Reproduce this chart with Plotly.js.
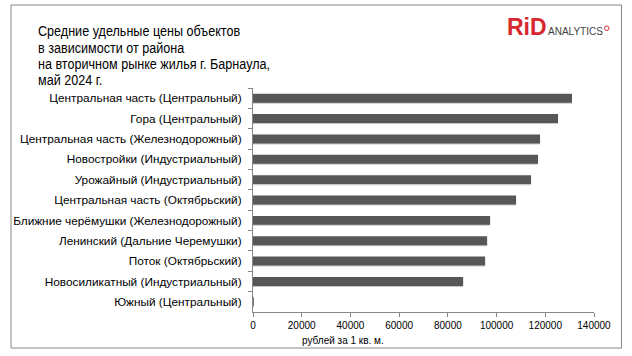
<!DOCTYPE html>
<html><head><meta charset="utf-8">
<script src="https://cdn.plot.ly/plotly-3.0.1.min.js"></script>
<style>
html,body{margin:0;padding:0;background:#fff}
#chart{width:632px;height:356px}
.narrow text.annotation-text{transform-box:fill-box;transform-origin:0 50%;transform:scaleX(0.84)}
</style>
</head><body><div id="chart"></div>
<script>
const categories = [
  "Центральная часть (Центральный)",
  "Гора (Центральный)",
  "Центральная часть (Железнодорожный)",
  "Новостройки (Индустриальный)",
  "Урожайный (Индустриальный)",
  "Центральная часть (Октябрьский)",
  "Ближние черёмушки (Железнодорожный)",
  "Ленинский (Дальние Черемушки)",
  "Поток (Октябрьский)",
  "Новосиликатный (Индустриальный)",
  "Южный (Центральный)"
];
const prices = [130970, 125240, 117850, 117030, 114160, 108010, 97340, 96110, 95290, 86270, 300];
const xTicks = [0, 20000, 40000, 60000, 80000, 100000, 120000, 140000];
const titleLines = ["Средние удельные цены объектов", "в зависимости от района", "на вторичном рынке жилья г. Барнаула,", "май 2024 г."];
const xAxisTitle = "рублей за 1 кв. м.";

const L = 253, R = 594, T = 88, B = 312;
const W = R - L, H = B - T;
const px = x => (x - L) / W;
const py = y => (B - y) / H;

const shadow = {
  type: 'bar', orientation: 'h', y: categories, x: prices,
  width: 0.44, offset: -0.17,
  marker: {color: 'rgba(0,0,0,0.22)', line: {width: 0}}, hoverinfo: 'skip'
};
const trace = {
  type: 'bar', orientation: 'h', y: categories, x: prices,
  width: 0.44, offset: -0.22,
  marker: {color: '#575757', line: {width: 0}}, hoverinfo: 'x+y'
};

const titleFont = {family: 'Arial, "Liberation Sans", sans-serif', size: 15, color: '#000'};
const baselines = [36, 52.3, 68.7, 85];
const annotations = titleLines.map((t, i) => ({
  text: t, xref: 'paper', yref: 'paper', x: px(37), y: py(baselines[i] - 0.35 * 15),
  xanchor: 'left', yanchor: 'middle', align: 'left', showarrow: false, borderpad: 0, font: titleFont
}));
annotations.push(
  {text: xAxisTitle, xref: 'paper', yref: 'paper', x: px(342.5), y: py(340), xanchor: 'center', yanchor: 'middle',
   showarrow: false, font: {family: 'Arial, "Liberation Sans", sans-serif', size: 10, color: '#000'}},
  {text: '<b>RiD</b>', xref: 'paper', yref: 'paper', x: px(506), y: py(35 - 0.35 * 23), xanchor: 'left', yanchor: 'middle',
   showarrow: false, borderpad: 0, font: {family: 'Arial, "Liberation Sans", sans-serif', size: 23, color: '#d7282f'}},
  {text: 'ANALYTICS', xref: 'paper', yref: 'paper', x: px(547), y: py(35 - 0.35 * 10), xanchor: 'left', yanchor: 'middle',
   showarrow: false, borderpad: 0, font: {family: 'Arial, "Liberation Sans", sans-serif', size: 10, color: '#3f3f3f'}}
);

const layout = {
  width: 632, height: 356,
  margin: {l: L, r: 632 - R, t: T, b: 356 - B, pad: 0},
  paper_bgcolor: '#fff', plot_bgcolor: '#fff',
  showlegend: false, barmode: 'overlay',
  font: {family: 'Arial, "Liberation Sans", sans-serif', size: 11, color: '#000'},
  xaxis: {
    range: [0, 140000], tickvals: xTicks, ticktext: xTicks.map(String),
    showgrid: false, zeroline: false, showline: true, linecolor: '#868686', linewidth: 1,
    ticks: 'outside', ticklen: 4, tickcolor: '#868686',
    tickfont: {size: 10}, fixedrange: true
  },
  yaxis: {
    type: 'category', autorange: 'reversed',
    showgrid: false, zeroline: false, showline: true, linecolor: '#868686', linewidth: 1,
    ticks: 'outside', ticklen: 4, tickcolor: '#868686', tickson: 'boundaries',
    tickfont: {size: 11.8}, ticklabelstandoff: 8, fixedrange: true
  },
  annotations: annotations,
  shapes: [
    {type: 'rect', xref: 'paper', yref: 'paper', x0: px(11), x1: px(621.5), y0: py(348), y1: py(5),
     line: {color: '#868686', width: 1}, fillcolor: 'rgba(0,0,0,0)'},
    {type: 'circle', xref: 'paper', yref: 'paper', x0: px(604.5), x1: px(609), y0: py(30.5), y1: py(26),
     line: {color: '#d7282f', width: 1}, fillcolor: 'rgba(0,0,0,0)'}
  ]
};

Plotly.newPlot('chart', [shadow, trace], layout, {displayModeBar: false, staticPlot: true}).then(gd => {
  for (let i = 0; i < titleLines.length; i++) {
    const g = gd.querySelector('g.annotation[data-index="' + i + '"]');
    if (g) g.classList.add('narrow');
  }
});
</script></body></html>
